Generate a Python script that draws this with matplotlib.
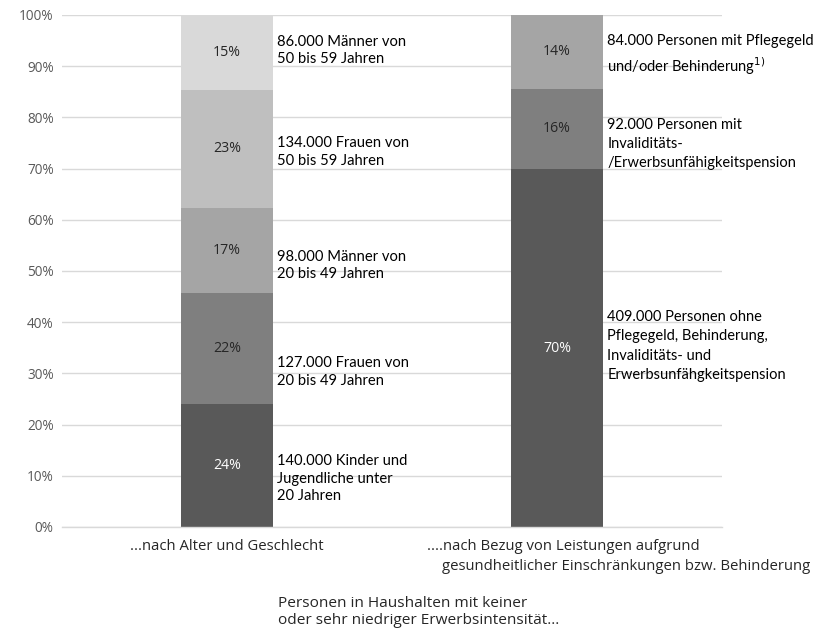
import matplotlib
matplotlib.use("Agg")
import matplotlib.pyplot as plt
from matplotlib.font_manager import FontProperties

# ---- data ----
categories = ["...nach Alter und Geschlecht",
              "....nach Bezug von Leistungen aufgrund\ngesundheitlicher Einschränkungen bzw. Behinderung"]

left_counts = [140, 127, 98, 134, 86]          # thousands, bottom -> top
left_labels = ["140.000 Kinder und\nJugendliche unter\n20 Jahren",
               "127.000 Frauen von\n20 bis 49 Jahren",
               "98.000 Männer von\n20 bis 49 Jahren",
               "134.000 Frauen von\n50 bis 59 Jahren",
               "86.000 Männer von\n50 bis 59 Jahren"]

right_counts = [409, 92, 84]
right_labels = ["409.000 Personen ohne\nPflegegeld, Behinderung,\nInvaliditäts- und\nErwerbsunfähgkeitspension",
                "92.000 Personen mit\nInvaliditäts-\n/Erwerbsunfähigkeitspension",
                "84.000 Personen mit Pflegegeld\nund/oder Behinderung$^{1)}$"]

yticks = [0, 10, 20, 30, 40, 50, 60, 70, 80, 90, 100]
xlabel = "Personen in Haushalten mit keiner\noder sehr niedriger Erwerbsintensität..."

# ---- style ----
left_colors = ["#595959", "#7f7f7f", "#a5a5a5", "#bfbfbf", "#d9d9d9"]
right_colors = ["#595959", "#7f7f7f", "#a5a5a5"]
left_pct_colors = ["white", "#262626", "#262626", "#262626", "#262626"]
right_pct_colors = ["white", "#262626", "#262626"]
left_offsets = [13, 23, 15, 3, -2]     # px downward shift of side labels
right_offsets = [-2, 15, 4]

W, H = 826, 632
fig = plt.figure(figsize=(W / 100, H / 100), dpi=100)
ax = fig.add_axes([62 / W, (H - 527) / H, (722 - 62) / W, (527 - 15) / H])
PX = 512 / 100.0   # px per data unit (y)

label_font = ["Lato", "DejaVu Sans"]
ui_font = ["Open Sans", "DejaVu Sans"]

renderer = fig.canvas.get_renderer()


def fit_size(sample, family, target_px):
    fp = FontProperties(family=family, size=10)
    w, h, d = renderer.get_text_width_height_descent(sample, fp, ismath=False)
    return 10 * target_px / w


def spacing(family, size, pitch_px):
    fp = FontProperties(family=family, size=size)
    w, h, d = renderer.get_text_width_height_descent("lp", fp, ismath=False)
    return pitch_px / h


fs_side_l = fit_size("86.000 Männer von", label_font, 128)
fs_side_r = fit_size("84.000 Personen mit Pflegegeld", label_font, 205)
fs_tick = fit_size("100%", ui_font, 35)
fs_pct = fit_size("15%", ui_font, 28)
fs_cat = fit_size("gesundheitlicher Einschränkungen bzw. Behinderung", ui_font, 369)
fs_title = fit_size("Personen in Haushalten mit keiner", ui_font, 249)

ls_l = spacing(label_font, fs_side_l, 18.3)
ls_r = spacing(label_font, fs_side_r, 20.5)
ls_t = spacing(ui_font, fs_title, 18.0)

bar_w = 0.28


def draw_stack(x, counts, colors, pct_colors, labels, offsets, fs, ls):
    total = sum(counts)
    bottom = 0.0
    for c, col, pc, lab, off in zip(counts, colors, pct_colors, labels, offsets):
        share = c / total * 100
        ax.bar(x, share, bottom=bottom, width=bar_w, color=col, zorder=2)
        mid = bottom + share / 2
        ax.text(x, mid, f"{round(share)}%", ha="center", va="center",
                color=pc, fontsize=fs_pct, family=ui_font, zorder=3)
        ax.annotate(lab, xy=(x + bar_w / 2, mid), xytext=(3, -off * 0.72),
                    textcoords="offset points", ha="left", va="center",
                    fontsize=fs, family=label_font, color="#000000",
                    linespacing=ls, zorder=3)
        bottom += share


draw_stack(0, left_counts, left_colors, left_pct_colors, left_labels, left_offsets, fs_side_l, ls_l)
draw_stack(1, right_counts, right_colors, right_pct_colors, right_labels, right_offsets, fs_side_r, ls_r)

ax.set_xlim(-0.5, 1.5)
ax.set_ylim(0, 100)
ax.set_yticks(yticks)
ax.set_yticklabels([f"{t}%" for t in yticks], family=ui_font, fontsize=fs_tick, color="#595959")
ax.tick_params(axis="y", length=0, pad=6)
ax.set_xticks([])
ax.grid(axis="y", color="#d9d9d9", linewidth=1, zorder=0)
for s in ["top", "right", "left"]:
    ax.spines[s].set_visible(False)
ax.spines["bottom"].set_color("#d9d9d9")
ax.spines["bottom"].set_linewidth(1)

# category labels
ax.text(0, -20 / PX, categories[0], ha="center", va="center", fontsize=fs_cat,
        family=ui_font, color="#262626")
line1, line2 = categories[1].split("\n")
ax.text((427 - 62) / 330 - 0.5, -20 / PX, line1, ha="left", va="center", fontsize=fs_cat,
        family=ui_font, color="#262626")
ax.text((442 - 62) / 330 - 0.5, -40 / PX, line2, ha="left", va="center", fontsize=fs_cat,
        family=ui_font, color="#262626")

# axis title
fig.text(278 / W, 1 - 612 / H, xlabel, ha="left", va="center", fontsize=fs_title,
         family=ui_font, color="#262626", linespacing=ls_t)

fig.savefig("out.png", dpi=100)
